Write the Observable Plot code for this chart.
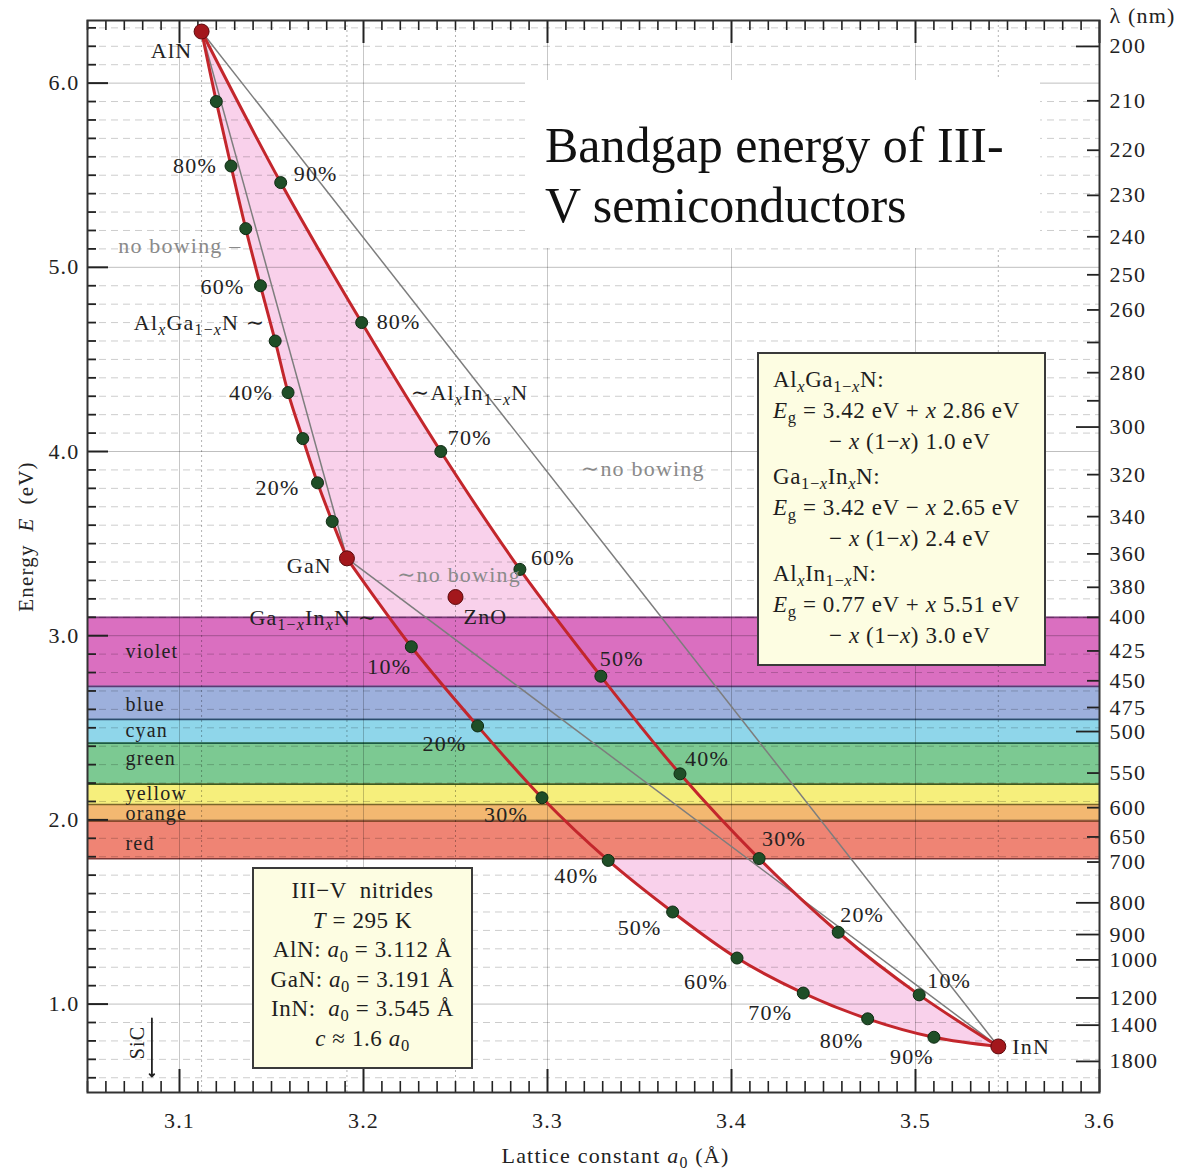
<!DOCTYPE html>
<html>
<head>
<meta charset="utf-8">
<script src="https://cdn.jsdelivr.net/npm/d3@7"></script>
<script src="https://cdn.jsdelivr.net/npm/@observablehq/plot@0.6"></script>
<style>
  body { margin: 0; background: #fff; }
  #wrap { position: relative; width: 1181px; height: 1174px; overflow: hidden; font-family: "Liberation Serif", "DejaVu Serif", serif; color: #222; }
  #wrap svg text { letter-spacing: 1.2px; }
  .box { position: absolute; box-sizing: border-box; background: #fdfde2; border: 2px solid #3a3a3a; color: #1e1e1e; font-size: 23px; letter-spacing: 0.6px; }
  .box sub { font-size: 72%; vertical-align: -0.28em; line-height: 0; }
  #formulas { left: 757px; top: 352px; width: 289px; height: 314px; padding: 10px 0 0 14px; line-height: 31px; white-space: nowrap; }
  #formulas .h { margin-top: 4px; }
  #formulas .h:first-child { margin-top: 0; }
  #formulas .ind { padding-left: 56px; }
  #nitrides { left: 252px; top: 867px; width: 221px; height: 202px; text-align: center; padding-top: 7px; line-height: 29.6px; white-space: nowrap; }
  #title { position: absolute; left: 525px; top: 80px; width: 515px; height: 168px; background: #fff; box-sizing: border-box; padding: 35px 0 0 20px; font-size: 50px; line-height: 60px; color: #111; white-space: nowrap; }
</style>
</head>
<body>
<div id="wrap">
  <div id="chart"></div>
  <div id="title">Bandgap energy of III-<br>V semiconductors</div>
  <div class="box" id="formulas">
    <div class="h">Al<sub><i>x</i></sub>Ga<sub>1−<i>x</i></sub>N:</div>
    <div><i>E</i><sub>g</sub> = 3.42 eV + <i>x</i> 2.86 eV</div>
    <div class="ind">− <i>x</i> (1−<i>x</i>) 1.0 eV</div>
    <div class="h">Ga<sub>1−<i>x</i></sub>In<sub><i>x</i></sub>N:</div>
    <div><i>E</i><sub>g</sub> = 3.42 eV − <i>x</i> 2.65 eV</div>
    <div class="ind">− <i>x</i> (1−<i>x</i>) 2.4 eV</div>
    <div class="h">Al<sub><i>x</i></sub>In<sub>1−<i>x</i></sub>N:</div>
    <div><i>E</i><sub>g</sub> = 0.77 eV + <i>x</i> 5.51 eV</div>
    <div class="ind">− <i>x</i> (1−<i>x</i>) 3.0 eV</div>
  </div>
  <div class="box" id="nitrides">
    <div>III−V&nbsp; nitrides</div>
    <div><i>T</i> = 295 K</div>
    <div>AlN: <i>a</i><sub>0</sub> = 3.112 Å</div>
    <div>GaN: <i>a</i><sub>0</sub> = 3.191 Å</div>
    <div>InN: &nbsp;<i>a</i><sub>0</sub> = 3.545 Å</div>
    <div><i>c</i> ≈ 1.6 <i>a</i><sub>0</sub></div>
  </div>
</div>
<script>
// ---------------- data ----------------
const HC = 1239.84; // eV·nm, wavelength <-> energy

const compounds = ["AlN", "GaN", "InN", "ZnO"];
const compoundA = [3.112, 3.191, 3.545, 3.25];   // lattice constant (Å)
const compoundE = [6.28, 3.42, 0.77, 3.21];      // bandgap (eV)
const sicA = 3.085;

const fractions = ["10%", "20%", "30%", "40%", "50%", "60%", "70%", "80%", "90%"];
// AlxGa1-xN, x = Al fraction
const alganA = [3.183, 3.175, 3.167, 3.159, 3.152, 3.144, 3.136, 3.128, 3.120];
const alganE = [3.62, 3.83, 4.07, 4.32, 4.60, 4.90, 5.21, 5.55, 5.90];
// AlxIn1-xN, x = Al fraction
const alinnA = [3.502, 3.458, 3.415, 3.372, 3.329, 3.285, 3.242, 3.199, 3.155];
const alinnE = [1.05, 1.39, 1.79, 2.25, 2.78, 3.36, 4.00, 4.70, 5.46];
// Ga1-xInxN, x = In fraction
const gainnA = [3.226, 3.262, 3.297, 3.333, 3.368, 3.403, 3.439, 3.474, 3.510];
const gainnE = [2.94, 2.51, 2.12, 1.78, 1.50, 1.25, 1.06, 0.92, 0.82];

const xTicksMajor = [3.1, 3.2, 3.3, 3.4, 3.5, 3.6];
const yTicksMajor = [1, 2, 3, 4, 5, 6];
const lambdaTicks = [200, 210, 220, 230, 240, 250, 260, 270, 280, 290, 300, 320, 340, 360, 380, 400, 425, 450, 475, 500, 550, 600, 650, 700, 800, 900, 1000, 1200, 1400, 1800];
const lambdaUnlabeled = [270, 290];
const lambdaLong = [200, 300, 500, 800, 900, 1000, 1200, 1400, 1800];

const bandNames = ["violet", "blue", "cyan", "green", "yellow", "orange", "red"];
const bandEdges = [400, 455, 487, 513, 565, 595, 622, 693]; // nm
const bandColors = ["#da6fc0", "#9db0dc", "#8fd6ea", "#7cc992", "#f6ef7c", "#f3b871", "#ef8474"];
const bandEdgeColors = ["#7a3a78", "#5a3a74", "#2c4c6e", "#1c5a44", "#3c5a20", "#7a652a", "#8a4a2c", "#7a3434"];

// ---------------- derived tables ----------------
const C = i => ({a: compoundA[i], e: compoundE[i]});
const series = (name, A, E) => A.map((a, i) => ({series: name, i, a, e: E[i]}));
const algan = series("AlGaN", alganA, alganE);
const alinn = series("AlInN", alinnA, alinnE);
const gainn = series("GaInN", gainnA, gainnE);
const allDots = [...algan, ...alinn, ...gainn];

const curves = [
  ...[C(1), ...algan, C(0)].map(d => ({...d, s: "AlGaN"})),
  ...[C(0), ...alinn.slice().reverse(), C(2)].map(d => ({...d, s: "AlInN"})),
  ...[C(1), ...gainn, C(2)].map(d => ({...d, s: "GaInN"}))
];
const polygon = [C(0), ...alinn.slice().reverse(), C(2), ...gainn.slice().reverse(), C(1), ...algan];
const noBowing = [[0, 1], [1, 2], [0, 2]];

const bands = bandNames.map((name, i) => ({name, lo: bandEdges[i], hi: bandEdges[i + 1], color: bandColors[i]}));

const minorX = d3.range(305, 361).filter(i => i % 10 !== 0).map(i => i / 100);
const minorY = d3.range(6, 64).filter(i => i % 10 !== 0).map(i => i / 10);
const lambdaShort = lambdaTicks.filter(l => !lambdaLong.includes(l));
const lambdaLabeled = lambdaTicks.filter(l => !lambdaUnlabeled.includes(l));

// ---------------- layout ----------------
const W = 1181, H = 1174;
const mL = 87, mR = 82, mT = 20, mB = 82;
const innerW = W - mL - mR, innerH = H - mT - mB;
const INK = "#222";
const FS = 22;

// label placement (pixel offsets from the data point they annotate)
const pctStyle = [
  // [series array, index, anchor, dx, dy, boxed]
  [algan, 7, "end", -14, 0, false], [algan, 5, "end", -16, 1, false],
  [algan, 3, "end", -15, 0, false], [algan, 1, "end", -18, 5, false],
  [alinn, 8, "start", 13, -9, false], [alinn, 7, "start", 15, -1, false],
  [alinn, 6, "start", 7, -14, false], [alinn, 5, "start", 11, -11, false],
  [alinn, 4, "start", -1, -17, true], [alinn, 3, "start", 5, -15, true],
  [alinn, 2, "start", 3, -20, true], [alinn, 1, "start", 2, -17, false],
  [alinn, 0, "start", 8, -14, false],
  [gainn, 0, "middle", -22, 20, true], [gainn, 1, "middle", -33, 18, true],
  [gainn, 2, "middle", -36, 17, true], [gainn, 3, "middle", -32, 16, false],
  [gainn, 4, "middle", -33, 16, false], [gainn, 5, "middle", -31, 24, false],
  [gainn, 6, "middle", -33, 20, false], [gainn, 7, "middle", -26, 22, false],
  [gainn, 8, "middle", -22, 20, false]
];
const compoundStyle = [
  ["middle", -30, 19], ["end", -15, 8], ["start", 14, 1], ["start", 8, 20]
];
const bandLabelDy = [0, 2, -1, -5, -1, 1, 4];
const annotations = [
  // text, anchor point, anchor, dx, dy, color, boxed
  ["no bowing –", algan[5], "end", -19, -40, "#8a8a8a", false],
  ["Al{*x*}Ga{1−*x*}N ∼", algan[5], "end", 5, 37, INK, false],
  ["∼Al{*x*}In{1−*x*}N", alinn[6], "start", -30, -59, INK, false],
  ["∼no bowing", alinn[6], "start", 140, 17, "#8a8a8a", false],
  ["∼no bowing", C(1), "start", 50, 17, "#8a8a8a", true],
  ["Ga{1−*x*}In{*x*}N ∼", gainn[0], "end", -34, -29, INK, true]
];

const marks = [
  // pink alloy region
  Plot.line(polygon, {x: "a", y: "e", fill: "#f8c6e6", fillOpacity: 0.8, stroke: "none", curve: "linear"}),
  // colour bands
  Plot.rect(bands, {y1: d => HC / d.lo, y2: d => HC / d.hi, fill: d => d.color}),
  Plot.ruleY(bandEdges, {y: d => HC / d, stroke: (d, i) => bandEdgeColors[i], strokeWidth: 1.6}),
  // grid
  Plot.ruleY(minorY, {stroke: "#000", strokeOpacity: 0.2, strokeDasharray: "7,5"}),
  Plot.ruleY(yTicksMajor, {stroke: "#000", strokeOpacity: 0.25}),
  Plot.ruleX(xTicksMajor.slice(0, 5), {stroke: "#000", strokeOpacity: 0.22}),
  Plot.ruleX(compoundA, {stroke: "#000", strokeOpacity: 0.3, strokeDasharray: "2,3"}),
  // inward ticks
  Plot.tickX(minorX, {x: d => d, insetTop: innerH - 11, stroke: INK, strokeWidth: 1.6}),
  Plot.tickX(xTicksMajor, {x: d => d, insetTop: innerH - 23, stroke: INK, strokeWidth: 2}),
  Plot.tickX(minorX, {x: d => d, insetBottom: innerH - 10, stroke: INK, strokeWidth: 1.6}),
  Plot.tickX(xTicksMajor, {x: d => d, insetBottom: innerH - 23, stroke: INK, strokeWidth: 2}),
  Plot.tickY(minorY, {y: d => d, insetRight: innerW - 9, stroke: INK, strokeWidth: 1.8}),
  Plot.tickY(yTicksMajor, {y: d => d, insetRight: innerW - 21, stroke: INK, strokeWidth: 2}),
  Plot.tickY(lambdaShort, {y: d => HC / d, insetLeft: innerW - 12, stroke: INK, strokeWidth: 1.8}),
  Plot.tickY(lambdaLong, {y: d => HC / d, insetLeft: innerW - 23, stroke: INK, strokeWidth: 1.8}),
  // no-bowing lines
  Plot.link(noBowing, {x1: d => compoundA[d[0]], y1: d => compoundE[d[0]], x2: d => compoundA[d[1]], y2: d => compoundE[d[1]], stroke: "#7d7d7d", strokeWidth: 1.5}),
  // bowed alloy curves
  Plot.line(curves, {x: "a", y: "e", z: "s", curve: "catmull-rom", stroke: "#c3262c", strokeWidth: 3}),
  // composition dots
  Plot.dot(allDots, {x: "a", y: "e", r: 6, fill: "#1f4e27", stroke: "#0e2a12", strokeWidth: 1}),
  Plot.dot(compounds, {x: (d, i) => compoundA[i], y: (d, i) => compoundE[i], r: 7.5, fill: "#a3171c", stroke: "#5c0a0d", strokeWidth: 1}),
  // SiC marker
  Plot.vector([sicA], {x: d => d, frameAnchor: "bottom", rotate: 180, length: 58, anchor: "end", dy: -16, r: 0.7, stroke: INK, strokeWidth: 1.8}),
  Plot.text(["SiC"], {x: sicA, frameAnchor: "bottom", textAnchor: "middle", lineAnchor: "middle", dx: -14, dy: -50, rotate: -90, fontSize: 20, fill: INK}),
];

// band labels (white boxes drawn behind them afterwards)
bands.forEach((b, i) => {
  marks.push(Plot.text([b], {y: d => (HC / d.lo + HC / d.hi) / 2, text: "name", frameAnchor: "left", dx: 38, dy: bandLabelDy[i], textAnchor: "start", fontSize: 20, fill: INK, ariaLabel: "bandlabel"}));
});
// percent labels
for (const [arr, i, anchor, dx, dy, boxed] of pctStyle) {
  marks.push(Plot.text([arr[i]], {x: "a", y: "e", text: d => fractions[d.i], textAnchor: anchor, dx, dy, fontSize: FS, fill: INK, ariaLabel: boxed ? "boxed" : "pct"}));
}
// compound labels
compounds.forEach((name, i) => {
  const [anchor, dx, dy] = compoundStyle[i];
  marks.push(Plot.text([name], {x: compoundA[i], y: compoundE[i], textAnchor: anchor, dx, dy, fontSize: FS, fill: INK}));
});
// annotations
for (const [txt, p, anchor, dx, dy, color, boxed] of annotations) {
  marks.push(Plot.text([txt], {x: p.a, y: p.e, textAnchor: anchor, dx, dy, fontSize: FS, fill: color, ariaLabel: boxed ? "boxed" : "note"}));
}
// axes
marks.push(
  Plot.axisX({ticks: xTicksMajor, anchor: "bottom", tickSize: 0, tickPadding: 20, tickFormat: d3.format(".1f"), fontSize: FS, label: null}),
  Plot.axisY({ticks: yTicksMajor, anchor: "left", tickSize: 0, tickPadding: 8, tickFormat: d3.format(".1f"), fontSize: FS, label: null}),
  Plot.axisY({ticks: lambdaLabeled.map(l => HC / l), anchor: "right", tickSize: 0, tickPadding: 10, tickFormat: d => String(Math.round(HC / d)), fontSize: FS, label: null}),
  Plot.text(["Lattice constant *a*{0} (Å)"], {frameAnchor: "bottom", textAnchor: "middle", lineAnchor: "middle", dx: 22, dy: 63, fontSize: FS, fill: INK}),
  Plot.text(["Energy  *E*  (eV)"], {frameAnchor: "left", textAnchor: "middle", lineAnchor: "middle", dx: -61, dy: -20, rotate: -90, fontSize: 21, fill: INK}),
  Plot.text(["λ (nm)"], {frameAnchor: "top-right", textAnchor: "start", lineAnchor: "middle", dx: 10, dy: -5, fontSize: FS, fill: INK}),
  Plot.frame({stroke: "#333", strokeWidth: 2})
);

const svg = Plot.plot({
  width: W, height: H,
  marginLeft: mL, marginRight: mR, marginTop: mT, marginBottom: mB,
  x: {domain: [3.05, 3.6]},
  y: {domain: [0.52, 6.34]},
  style: {fontFamily: '"Liberation Serif", "DejaVu Serif", serif', fontSize: FS + "px", color: INK, background: "white", overflow: "hidden"},
  marks
});
document.getElementById("chart").appendChild(svg);

// ---------------- rich text: *italic*, {subscript} ----------------
const NS = "http://www.w3.org/2000/svg";
svg.querySelectorAll("text").forEach(t => {
  const s = t.textContent;
  if (!/[{*]/.test(s)) return;
  while (t.firstChild) t.removeChild(t.firstChild);
  let it = false, sub = false, buf = "";
  const flush = () => {
    if (!buf) return;
    const ts = document.createElementNS(NS, "tspan");
    if (it) ts.setAttribute("font-style", "italic");
    if (sub) { ts.setAttribute("font-size", "72%"); ts.setAttribute("baseline-shift", "-5px"); }
    ts.textContent = buf; t.appendChild(ts); buf = "";
  };
  for (const ch of s) {
    if (ch === "*") { flush(); it = !it; }
    else if (ch === "{") { flush(); sub = true; }
    else if (ch === "}") { flush(); sub = false; }
    else buf += ch;
  }
  flush();
});

// ---------------- white label boxes ----------------
function boxes(selector, fn) {
  svg.querySelectorAll(selector).forEach(t => {
    const b = t.getBBox();
    const r = document.createElementNS(NS, "rect");
    const [x, y, w, h] = fn(b);
    r.setAttribute("x", x); r.setAttribute("y", y);
    r.setAttribute("width", w); r.setAttribute("height", h);
    r.setAttribute("fill", "white");
    if (t.getAttribute("transform")) r.setAttribute("transform", t.getAttribute("transform"));
    t.parentNode.insertBefore(r, t);
  });
}
boxes('g[aria-label="boxed"] text', b => [b.x - 3, b.y + 1, b.width + 6, b.height - 1]);
boxes('g[aria-label="bandlabel"] text', b => [b.x - 12, b.y + 1, 90, b.height]);
</script>
</body>
</html>
